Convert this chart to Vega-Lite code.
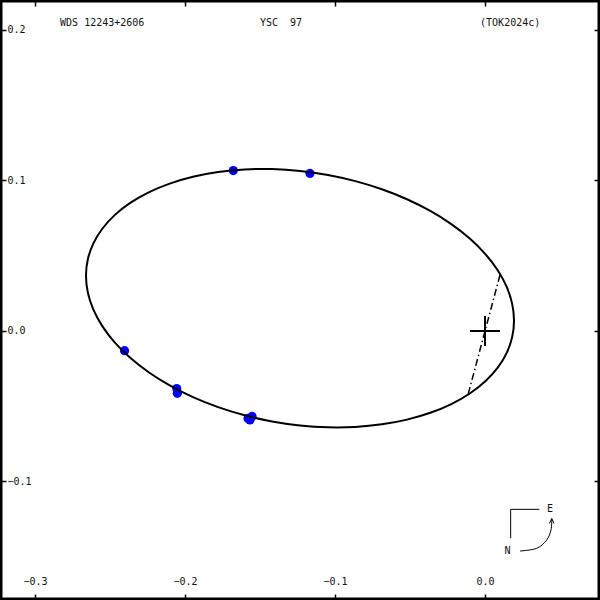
{
  "$schema": "https://vega.github.io/schema/vega-lite/v6.json",
  "width": 600,
  "height": 600,
  "padding": 0,
  "autosize": {"type": "none"},
  "background": "white",
  "config": {
    "view": {"stroke": "black", "strokeWidth": 5},
    "axis": {
      "grid": false,
      "domain": false,
      "title": null,
      "tickColor": "black",
      "tickWidth": 1.5,
      "tickSize": -6,
      "labelFont": "DejaVu Sans Mono",
      "labelFontSize": 10,
      "labelColor": "#111111",
      "labelFlush": false,
      "labelOverlap": false,
      "labelBound": false
    }
  },
  "datasets": {
    "obs": [
      {"x": -0.1678, "y": 0.1066},
      {"x": -0.1167, "y": 0.1047},
      {"x": -0.2403, "y": -0.0131},
      {"x": -0.2055, "y": -0.0382},
      {"x": -0.2051, "y": -0.0414},
      {"x": -0.1580, "y": -0.0581},
      {"x": -0.1553, "y": -0.0568},
      {"x": -0.1567, "y": -0.0591}
    ],
    "orbit": [
      {"i": 0, "x": 0.019337, "y": 0.006864},
      {"i": 1, "x": 0.018116, "y": 0.018027},
      {"i": 2, "x": 0.014477, "y": 0.029253},
      {"i": 3, "x": 0.008478, "y": 0.040351},
      {"i": 4, "x": 0.000223, "y": 0.051133},
      {"i": 5, "x": -0.010145, "y": 0.061412},
      {"i": 6, "x": -0.022449, "y": 0.071014},
      {"i": 7, "x": -0.036480, "y": 0.079773},
      {"i": 8, "x": -0.051996, "y": 0.087541},
      {"i": 9, "x": -0.068734, "y": 0.094184},
      {"i": 10, "x": -0.086405, "y": 0.099588},
      {"i": 11, "x": -0.104708, "y": 0.103660},
      {"i": 12, "x": -0.123330, "y": 0.106332},
      {"i": 13, "x": -0.141952, "y": 0.107558},
      {"i": 14, "x": -0.160255, "y": 0.107316},
      {"i": 15, "x": -0.177926, "y": 0.105610},
      {"i": 16, "x": -0.194664, "y": 0.102471},
      {"i": 17, "x": -0.210180, "y": 0.097951},
      {"i": 18, "x": -0.224211, "y": 0.092128},
      {"i": 19, "x": -0.236515, "y": 0.085102},
      {"i": 20, "x": -0.246883, "y": 0.076993},
      {"i": 21, "x": -0.255138, "y": 0.067939},
      {"i": 22, "x": -0.261137, "y": 0.058095},
      {"i": 23, "x": -0.264776, "y": 0.047631},
      {"i": 24, "x": -0.265997, "y": 0.036724},
      {"i": 25, "x": -0.264776, "y": 0.025561},
      {"i": 26, "x": -0.261137, "y": 0.014335},
      {"i": 27, "x": -0.255138, "y": 0.003237},
      {"i": 28, "x": -0.246883, "y": -0.007545},
      {"i": 29, "x": -0.236515, "y": -0.017824},
      {"i": 30, "x": -0.224211, "y": -0.027426},
      {"i": 31, "x": -0.210180, "y": -0.036185},
      {"i": 32, "x": -0.194664, "y": -0.043953},
      {"i": 33, "x": -0.177926, "y": -0.050596},
      {"i": 34, "x": -0.160255, "y": -0.056000},
      {"i": 35, "x": -0.141952, "y": -0.060072},
      {"i": 36, "x": -0.123330, "y": -0.062744},
      {"i": 37, "x": -0.104708, "y": -0.063970},
      {"i": 38, "x": -0.086405, "y": -0.063728},
      {"i": 39, "x": -0.068734, "y": -0.062022},
      {"i": 40, "x": -0.051996, "y": -0.058883},
      {"i": 41, "x": -0.036480, "y": -0.054363},
      {"i": 42, "x": -0.022449, "y": -0.048540},
      {"i": 43, "x": -0.010145, "y": -0.041514},
      {"i": 44, "x": 0.000223, "y": -0.033405},
      {"i": 45, "x": 0.008478, "y": -0.024351},
      {"i": 46, "x": 0.014477, "y": -0.014507},
      {"i": 47, "x": 0.018116, "y": -0.004043}
    ],
    "nodes": [
      {"x": 0.0100, "y": 0.0372, "x2": -0.0115, "y2": -0.0430}
    ],
    "cross": [
      {"x": -0.0100, "y": 0.0, "x2": 0.0100, "y2": 0.0},
      {"x": 0.0, "y": -0.0100, "x2": 0.0, "y2": 0.0100}
    ],
    "compass": [
      {"x": 0.0171, "y": -0.1185, "x2": 0.0362, "y2": -0.1185},
      {"x": 0.0171, "y": -0.1185, "x2": 0.0171, "y2": -0.1377},
      {"x": 0.0429, "y": -0.1279, "x2": 0.0445, "y2": -0.1246},
      {"x": 0.0460, "y": -0.1279, "x2": 0.0445, "y2": -0.1246}
    ],
    "arrow": [
      {"i": 1, "x": 0.0233, "y": -0.1462},
      {"i": 2, "x": 0.0345, "y": -0.1444},
      {"i": 3, "x": 0.0411, "y": -0.1389},
      {"i": 4, "x": 0.0440, "y": -0.1322},
      {"i": 5, "x": 0.0445, "y": -0.1249}
    ],
    "titles": [
      {"x": -0.2833, "y": 0.2047, "label": "WDS 12243+2606"},
      {"x": -0.1500, "y": 0.2047, "label": "YSC \u00a097"},
      {"x": -0.0033, "y": 0.2047, "label": "(TOK2024c)"}
    ],
    "letters": [
      {"x": 0.0433, "y": -0.1183, "label": "E"},
      {"x": 0.0150, "y": -0.1462, "label": "N"}
    ]
  },
  "layer": [
    {
      "data": {"name": "obs"},
      "mark": {"type": "circle", "color": "#0000ff", "opacity": 1, "size": 85},
      "encoding": {
        "x": {
          "field": "x", "type": "quantitative",
          "scale": {"domain": [-0.32333, 0.07667], "nice": false, "zero": false},
          "axis": {"orient": "bottom", "values": [-0.3, -0.2, -0.1, 0.0], "format": ".1f", "labelPadding": -13, "labelBaseline": "middle", "labelAlign": "center"}
        },
        "y": {
          "field": "y", "type": "quantitative",
          "scale": {"domain": [-0.17874, 0.21993], "nice": false, "zero": false},
          "axis": {"orient": "left", "values": [-0.1, 0.0, 0.1, 0.2], "format": ".1f", "labelPadding": -1, "labelBaseline": "middle", "labelAlign": "left"}
        }
      }
    },
    {
      "data": {"name": "orbit"},
      "mark": {"type": "line", "interpolate": "cardinal-closed", "color": "black", "strokeWidth": 2},
      "encoding": {
        "x": {"field": "x", "type": "quantitative", "axis": {"orient": "top", "values": [-0.3, -0.2, -0.1, 0.0], "labels": false}},
        "y": {"field": "y", "type": "quantitative", "axis": {"orient": "right", "values": [-0.1, 0.0, 0.1, 0.2], "labels": false}},
        "order": {"field": "i", "type": "quantitative"}
      }
    },
    {
      "data": {"name": "nodes"},
      "mark": {"type": "rule", "color": "black", "strokeWidth": 1.5, "strokeDash": [7, 3, 1.5, 3]},
      "encoding": {
        "x": {"field": "x", "type": "quantitative", "axis": null},
        "y": {"field": "y", "type": "quantitative", "axis": null},
        "x2": {"field": "x2"},
        "y2": {"field": "y2"}
      }
    },
    {
      "data": {"name": "cross"},
      "mark": {"type": "rule", "color": "black", "strokeWidth": 2},
      "encoding": {
        "x": {"field": "x", "type": "quantitative", "axis": null},
        "y": {"field": "y", "type": "quantitative", "axis": null},
        "x2": {"field": "x2"},
        "y2": {"field": "y2"}
      }
    },
    {
      "data": {"name": "compass"},
      "mark": {"type": "rule", "color": "black", "strokeWidth": 1},
      "encoding": {
        "x": {"field": "x", "type": "quantitative", "axis": null},
        "y": {"field": "y", "type": "quantitative", "axis": null},
        "x2": {"field": "x2"},
        "y2": {"field": "y2"}
      }
    },
    {
      "data": {"name": "arrow"},
      "mark": {"type": "line", "interpolate": "cardinal", "color": "black", "strokeWidth": 1},
      "encoding": {
        "x": {"field": "x", "type": "quantitative", "axis": null},
        "y": {"field": "y", "type": "quantitative", "axis": null},
        "order": {"field": "i", "type": "quantitative"}
      }
    },
    {
      "data": {"name": "titles"},
      "mark": {"type": "text", "align": "left", "baseline": "middle", "font": "DejaVu Sans Mono", "fontSize": 10, "color": "#111111"},
      "encoding": {
        "x": {"field": "x", "type": "quantitative", "axis": null},
        "y": {"field": "y", "type": "quantitative", "axis": null},
        "text": {"field": "label"}
      }
    },
    {
      "data": {"name": "letters"},
      "mark": {"type": "text", "align": "center", "baseline": "middle", "font": "DejaVu Sans Mono", "fontSize": 10, "color": "#111111"},
      "encoding": {
        "x": {"field": "x", "type": "quantitative", "axis": null},
        "y": {"field": "y", "type": "quantitative", "axis": null},
        "text": {"field": "label"}
      }
    }
  ],
  "resolve": {"axis": {"x": "independent", "y": "independent"}}
}
